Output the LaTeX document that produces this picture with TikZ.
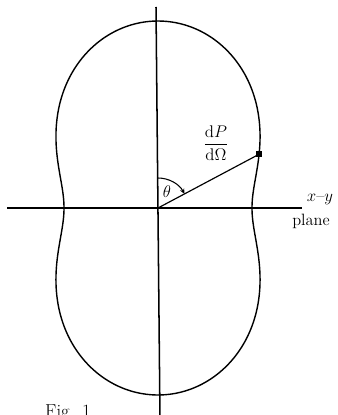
\documentclass[tikz,border=0pt]{standalone}
\usetikzlibrary{arrows.meta,calc}
\begin{document}
\begin{tikzpicture}[x=0.3mm,y=-0.3mm,
  axis/.style={line width=1.3pt},
  lobe/.style={line width=1.2pt},
  lbl/.style={font=\fontsize{14}{16}\selectfont, inner sep=0pt}]
\clip (0,0) rectangle (338,415);
\fill[white] (0,0) rectangle (338,415);
\coordinate (O) at (158,208);
\coordinate (top) at (156,7);
\coordinate (bot) at (160,420);
\coordinate (left) at (7,208);
\coordinate (right) at (302,208);
% lobe curve r = a + b cos^2(theta), theta from vertical
\draw[lobe] plot[domain=0:360,samples=240,smooth cycle,variable=\t]
  ({158+(94+93*cos(\t)*cos(\t))*sin(\t)},{208-(94+93*cos(\t)*cos(\t))*cos(\t)});
% axes
\draw[axis] (top) -- (bot);
\draw[axis] (left) -- (right);
% radius vector
\coordinate (P) at ({158+(94+93*cos(62)*cos(62))*sin(62)},{208-(94+93*cos(62)*cos(62))*cos(62)});
\draw[line width=1.0pt] (O) -- (P);
\fill ($(P)+(-3,-3)$) rectangle ($(P)+(3,3)$);
% angle arc
\draw[line width=0.9pt,-{Stealth[length=4.5pt,width=4pt]}] ($(O)+(0,-30)$) arc[start angle=-90,end angle=-90+62,radius=30];
\node[lbl] (theta) at (167,192) {$\theta$};
\node[lbl] (dpdo) at (216,143) {$\displaystyle\frac{\mathrm{d}P}{\mathrm{d}\Omega}$};
\node[lbl] (xy) at (320,200) {$x$--$y$};
\node[lbl] (plane) at (311,221) {plane};
\node[lbl, anchor=north west, font=\fontsize{16}{18}\selectfont] (fig) at (45,404) {Fig. 1};
\end{tikzpicture}
\end{document}
